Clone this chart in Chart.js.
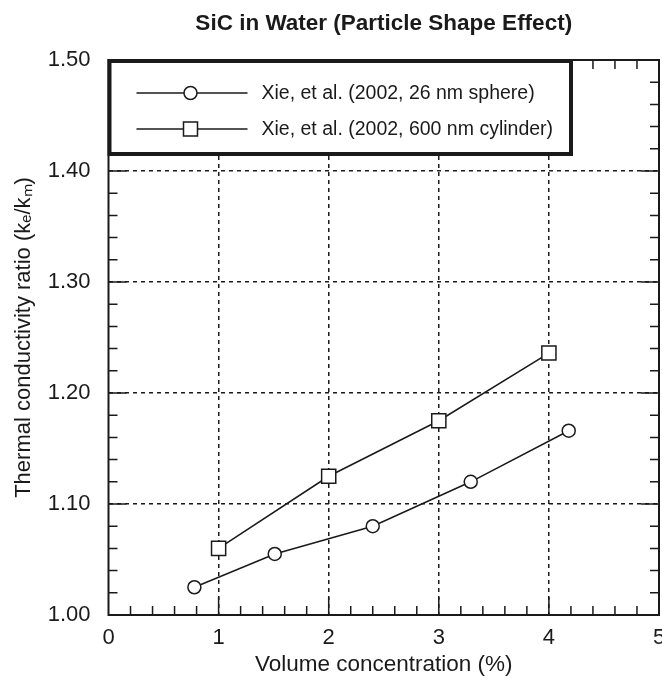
<!DOCTYPE html>
<html>
<head>
<meta charset="utf-8">
<script src="https://cdn.jsdelivr.net/npm/chart.js@4.4.1/dist/chart.umd.min.js"></script>
<style>
  html, body { margin: 0; padding: 0; background: #fff; }
</style>
</head>
<body>
<canvas id="c" width="662" height="678"></canvas>
<script>
// values
const sphereX = [0.78, 1.51, 2.40, 3.29, 4.18];
const sphereY = [1.025, 1.055, 1.080, 1.120, 1.166];
const cylinderX = [1.0, 2.0, 3.0, 4.0];
const cylinderY = [1.060, 1.125, 1.175, 1.236];
const seriesLabels = ['Xie, et al. (2002, 26 nm sphere)', 'Xie, et al. (2002, 600 nm cylinder)'];
const xRange = [0, 5];
const yRange = [1.0, 1.5];
const xMinorStep = 0.2;
const yMinorStep = 0.02;

const FONT = '"Liberation Sans", Arial, Helvetica, sans-serif';
const INK = '#1a1a1a';

const toPoints = (xs, ys) => xs.map((x, i) => ({ x, y: ys[i] }));

// keep the end tick labels from pushing the plot area inwards
const noEdgePadding = s => {
    s.paddingLeft = s.paddingRight = s.paddingTop = s.paddingBottom = 0;
};

// frame, inward tick marks and the boxed legend
const decorations = {
    id: 'decorations',
    afterDatasetsDraw(chart) {
        const { ctx, chartArea: a, scales } = chart;
        const xs = scales.x, ys = scales.y;
        ctx.save();
        ctx.strokeStyle = INK;

        // minor / major ticks on all four sides
        ctx.lineWidth = 1.5;
        const nx = Math.round((xRange[1] - xRange[0]) / xMinorStep);
        for (let i = 1; i < nx; i++) {
            const px = xs.getPixelForValue(xRange[0] + i * xMinorStep);
            const len = i % 5 === 0 ? 18 : 9;
            ctx.beginPath();
            ctx.moveTo(px, a.bottom); ctx.lineTo(px, a.bottom - len);
            ctx.moveTo(px, a.top); ctx.lineTo(px, a.top + len);
            ctx.stroke();
        }
        const ny = Math.round((yRange[1] - yRange[0]) / yMinorStep);
        for (let i = 1; i < ny; i++) {
            const py = ys.getPixelForValue(yRange[0] + i * yMinorStep);
            const len = i % 5 === 0 ? 18 : 9;
            ctx.beginPath();
            ctx.moveTo(a.left, py); ctx.lineTo(a.left + len, py);
            ctx.moveTo(a.right, py); ctx.lineTo(a.right - len, py);
            ctx.stroke();
        }

        // legend box
        const lx = a.left, ly = a.top, lw = 572 - a.left, lh = 95;
        ctx.fillStyle = '#fff';
        ctx.fillRect(lx, ly, lw, lh);
        ctx.lineWidth = 4;
        ctx.strokeRect(lx + 1, ly + 1, lw - 2, lh - 2);

        ctx.font = '19.5px ' + FONT;
        ctx.textBaseline = 'middle';
        ctx.fillStyle = INK;
        chart.data.datasets.forEach((ds, i) => {
            const y = ly + 33 + i * 36;
            ctx.lineWidth = 1.5;
            ctx.beginPath();
            ctx.moveTo(lx + 28, y); ctx.lineTo(lx + 139, y);
            ctx.stroke();
            const mx = lx + 82;
            ctx.fillStyle = '#fff';
            ctx.beginPath();
            if (ds.pointStyle === 'rect') {
                ctx.rect(mx - 7, y - 7, 14, 14);
            } else {
                ctx.arc(mx, y, 6.5, 0, Math.PI * 2);
            }
            ctx.fill();
            ctx.stroke();
            ctx.fillStyle = INK;
            ctx.fillText(ds.label, lx + 153, y + 1);
        });

        // plot frame
        ctx.lineWidth = 2;
        ctx.strokeRect(a.left, a.top, a.right - a.left, a.bottom - a.top);
        ctx.restore();
    }
};

new Chart(document.getElementById('c'), {
    type: 'line',
    data: {
        datasets: [
            {
                label: seriesLabels[0],
                data: toPoints(sphereX, sphereY),
                borderColor: INK,
                borderWidth: 1.5,
                pointStyle: 'circle',
                pointRadius: 6.5,
                pointBorderWidth: 1.5,
                pointBackgroundColor: '#fff',
                pointBorderColor: INK,
                tension: 0,
            },
            {
                label: seriesLabels[1],
                data: toPoints(cylinderX, cylinderY),
                borderColor: INK,
                borderWidth: 1.5,
                pointStyle: 'rect',
                pointRadius: 10,
                pointBorderWidth: 1.5,
                pointBackgroundColor: '#fff',
                pointBorderColor: INK,
                tension: 0,
            },
        ]
    },
    options: {
        responsive: false,
        animation: false,
        layout: { autoPadding: false, padding: { left: 0, right: 3, top: 0, bottom: 0 } },
        plugins: {
            legend: { display: false },
            tooltip: { enabled: false },
            title: {
                display: true,
                fullSize: false,
                text: 'SiC in Water (Particle Shape Effect)',
                color: INK,
                font: { family: FONT, size: 22.5, weight: 'bold' },
                padding: { top: 10.5, bottom: 22.5 }
            }
        },
        scales: {
            x: {
                type: 'linear',
                min: xRange[0],
                max: xRange[1],
                afterFit: s => { s.height = 63; noEdgePadding(s); },
                ticks: {
                    stepSize: 1,
                    color: INK,
                    padding: 10,
                    font: { family: FONT, size: 22 },
                    callback: v => String(v)
                },
                grid: {
                    drawTicks: false,
                    lineWidth: 1.5,
                    color: c => (c.tick && (c.tick.value === xRange[0] || c.tick.value === xRange[1])) ? 'rgba(0,0,0,0)' : INK
                },
                border: { display: false, dash: [4, 4] },
                title: {
                    display: true,
                    text: 'Volume concentration (%)',
                    color: INK,
                    font: { family: FONT, size: 22.5 },
                    padding: 0
                }
            },
            y: {
                min: yRange[0],
                max: yRange[1],
                afterFit: s => { s.width = 108.5; noEdgePadding(s); },
                ticks: {
                    stepSize: 0.1,
                    color: INK,
                    padding: 18,
                    font: { family: FONT, size: 22 },
                    callback: v => Number(v).toFixed(2)
                },
                grid: {
                    drawTicks: false,
                    lineWidth: 1.5,
                    color: c => (c.tick && (Math.abs(c.tick.value - yRange[0]) < 1e-6 || Math.abs(c.tick.value - yRange[1]) < 1e-6)) ? 'rgba(0,0,0,0)' : INK
                },
                border: { display: false, dash: [4, 4] },
                title: {
                    display: true,
                    text: 'Thermal conductivity ratio (kₑ/kₘ)',
                    color: INK,
                    font: { family: FONT, size: 22 },
                    padding: { top: 11, bottom: 0 }
                }
            }
        }
    },
    plugins: [decorations]
});
</script>
</body>
</html>
